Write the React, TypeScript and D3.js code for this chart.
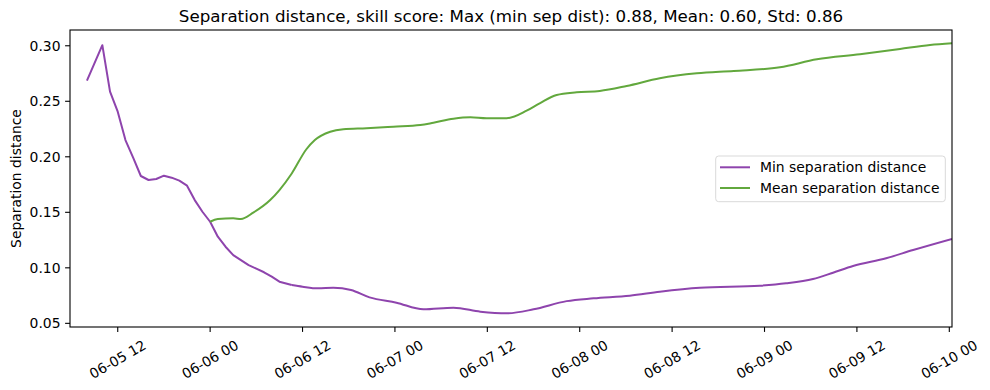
import React from "react";
import * as d3 from "d3";

// hours since 2024-06-05 00:00
const minHours = [8, 10, 11, 12, 13, 14, 15, 16, 17, 18, 19, 20, 21, 22, 23, 24, 25, 26, 27, 28, 29, 30, 31, 32, 33, 34.6, 36, 38, 40, 42.3, 44.7, 48.2, 51.7, 55.6, 59.1, 62.5, 66, 70.3, 73.8, 78.5, 82.4, 87.6, 95.4, 98.8, 102.3, 104.9, 107.5, 111.8, 115.3, 120.35];
const minValues = [0.2686, 0.3005, 0.2587, 0.2406, 0.2151, 0.1992, 0.1827, 0.1791, 0.180, 0.183, 0.1812, 0.1785, 0.174, 0.161, 0.1505, 0.1415, 0.128, 0.119, 0.1115, 0.107, 0.1025, 0.0992, 0.096, 0.092, 0.0875, 0.0845, 0.083, 0.0815, 0.0821, 0.080, 0.0734, 0.0686, 0.0626, 0.0641, 0.0605, 0.059, 0.0626, 0.070, 0.0725, 0.0749, 0.0785, 0.0821, 0.0839, 0.086, 0.0899, 0.0956, 0.1016, 0.1086, 0.116, 0.126];

const meanHours = [24, 25, 27, 28, 29.6, 31.8, 33, 34.6, 36.5, 37.6, 39.6, 41.3, 44.3, 47.8, 51.3, 53, 55.6, 57.8, 59.9, 62.5, 65.1, 66.8, 69, 71.6, 74.6, 78.1, 82.4, 87.2, 92, 98, 102.8, 108.4, 113.6, 117.5, 120.35];
const meanValues = [0.1415, 0.144, 0.1446, 0.144, 0.1497, 0.161, 0.170, 0.185, 0.2068, 0.2151, 0.2226, 0.2248, 0.2257, 0.2271, 0.2286, 0.2307, 0.2343, 0.2356, 0.2347, 0.2347, 0.2415, 0.2482, 0.2557, 0.2581, 0.2593, 0.2638, 0.2707, 0.2752, 0.2773, 0.2806, 0.2878, 0.2923, 0.2971, 0.3007, 0.3022];

const xTickHours = [12, 24, 36, 48, 60, 72, 84, 96, 108, 120];
const xTickLabels = ["06-05 12", "06-06 00", "06-06 12", "06-07 00", "06-07 12", "06-08 00", "06-08 12", "06-09 00", "06-09 12", "06-10 00"];
const yTicks = [0.05, 0.1, 0.15, 0.2, 0.25, 0.3];

const seriesNames = ["Min separation distance", "Mean separation distance"];
const colors = ["#8e44ad", "#62a83d"];
const title = "Separation distance, skill score: Max (min sep dist): 0.88, Mean: 0.60, Std: 0.86";

const W = 990, H = 390;
const L = 70, R = 952, T = 30, B = 327;
const FONT = "DejaVu Sans, sans-serif";

export default function App() {
  const x = d3.scaleLinear().domain([5.8, 120.35]).range([L, R]);
  const y = d3.scaleLinear().domain([0.0467, 0.3142]).range([B, T]);
  const lineLin = d3
    .line<[number, number]>()
    .x((d) => x(d[0]))
    .y((d) => y(d[1]));
  const lineSmooth = d3
    .line<[number, number]>()
    .x((d) => x(d[0]))
    .y((d) => y(d[1]))
    .curve(d3.curveMonotoneX);
  const minPts: [number, number][] = minHours.map((h, i) => [h, minValues[i]]);
  const split = minHours.indexOf(34.6);
  const minA = minPts.slice(0, split + 1);
  const minB = minPts.slice(split);
  const meanPts: [number, number][] = meanHours.map((h, i) => [h, meanValues[i]]);

  const fs = 13.9;
  const labW = 4.495 * fs, labH = 1.164 * fs;
  const rad = Math.PI / 6;
  const bbH = labW * Math.sin(rad) + labH * Math.cos(rad);

  return (
    <svg width={W} height={H} style={{ position: "absolute", left: 0, top: 0 }} fontFamily={FONT}>
      <rect width={W} height={H} fill="white" />
      <defs>
        <clipPath id="plot">
          <rect x={L} y={T} width={R - L} height={B - T} />
        </clipPath>
      </defs>
      <g clipPath="url(#plot)" fill="none" strokeWidth={2} strokeLinejoin="round" strokeLinecap="butt">
        <path d={lineLin(minA) || ""} stroke={colors[0]} />
        <path d={lineSmooth(minB) || ""} stroke={colors[0]} />
        <path d={lineSmooth(meanPts) || ""} stroke={colors[1]} />
      </g>
      <rect x={L} y={T} width={R - L} height={B - T} fill="none" stroke="black" strokeWidth={1.1} />
      {yTicks.map((t) => (
        <g key={t}>
          <line x1={L - 4.9} x2={L} y1={y(t)} y2={y(t)} stroke="black" strokeWidth={1.1} />
          <text x={L - 9.5} y={y(t)} dy="0.35em" textAnchor="end" fontSize={fs} fill="black">
            {t.toFixed(2)}
          </text>
        </g>
      ))}
      {xTickHours.map((h, i) => {
        const cx = x(h);
        const cy = B + 4.9 + 4.9 + bbH / 2;
        return (
          <g key={h}>
            <line x1={cx} x2={cx} y1={B} y2={B + 4.9} stroke="black" strokeWidth={1.1} />
            <text
              x={cx}
              y={cy}
              transform={`rotate(-30 ${cx} ${cy})`}
              textAnchor="middle"
              dy="0.35em"
              fontSize={fs}
              fill="black"
            >
              {xTickLabels[i]}
            </text>
          </g>
        );
      })}
      <text
        x={16}
        y={(T + B) / 2}
        transform={`rotate(-90 16 ${(T + B) / 2})`}
        textAnchor="middle"
        dy="0.35em"
        fontSize={fs}
        fill="black"
      >
        Separation distance
      </text>
      <text x={(L + R) / 2} y={22} textAnchor="middle" fontSize={16.7} fill="black">
        {title}
      </text>
      <g>
        <rect x={715.7} y={156} width={229.6} height={45.7} rx={3} fill="white" fillOpacity={0.8} stroke="#d9d9d9" strokeWidth={1} />
        {seriesNames.map((n, i) => {
          const ly = 167.3 + i * 20.7;
          return (
            <g key={n}>
              <line x1={720} x2={750} y1={ly} y2={ly} stroke={colors[i]} strokeWidth={2} />
              <text x={760} y={ly} dy="0.35em" fontSize={fs} fill="black">
                {n}
              </text>
            </g>
          );
        })}
      </g>
    </svg>
  );
}
